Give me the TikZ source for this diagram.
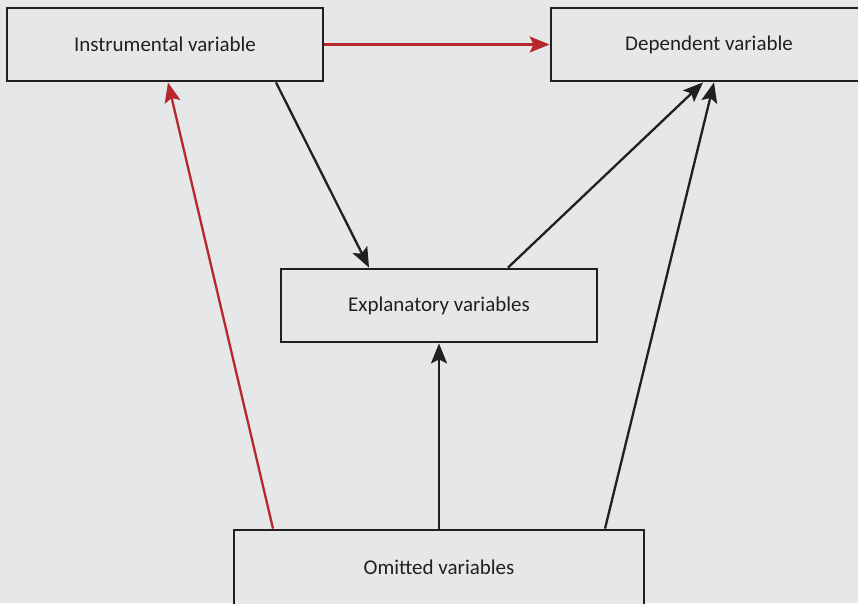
\documentclass[tikz,border=0pt]{standalone}
\usepackage{fontspec}
\setmainfont{Carlito}
\usetikzlibrary{arrows.meta}
\definecolor{bg}{HTML}{E6E7E8}
\definecolor{txt}{HTML}{231F20}
\definecolor{redarrow}{HTML}{B7282E}
\begin{document}
\begin{tikzpicture}[x=1pt,y=-1pt,
  box/.style={draw=txt,line width=2.8pt,fill=bg,text=txt,font=\fontsize{21}{24}\selectfont,inner sep=0pt,minimum width=316pt,minimum height=73pt},
  blk/.style={draw=txt,line width=2.3pt,-{Stealth[length=20pt,width=16pt,inset=4pt]}},
  redl/.style={draw=redarrow,line width=2.3pt,-{Stealth[length=20pt,width=16pt,inset=4pt]}}]
\fill[bg] (0,0) rectangle (858,603);
\useasboundingbox (0,0) rectangle (858,603);
\node[box] (inst) at (165,44.5) {Instrumental variable};
\node[box] (dep) at (709,44.5) {Dependent variable};
\node[box] (expl) at (439,305.5) {Explanatory variables};
\node[box,minimum width=410pt,minimum height=75pt] (omit) at (439,567.5) {Omitted variables};
\draw[redl] (inst.east) -- (dep.west);
\draw[redl] ([xshift=-166pt]omit.north) -- ([xshift=3pt]inst.south);
\draw[blk] ([xshift=111pt]inst.south) -- ([xshift=-70pt]expl.north);
\draw[blk] ([xshift=69pt]expl.north) -- ([xshift=-6pt]dep.south);
\draw[blk] (omit.north) -- (expl.south);
\draw[blk] ([xshift=166pt]omit.north) -- ([xshift=5pt]dep.south);
\end{tikzpicture}
\end{document}
